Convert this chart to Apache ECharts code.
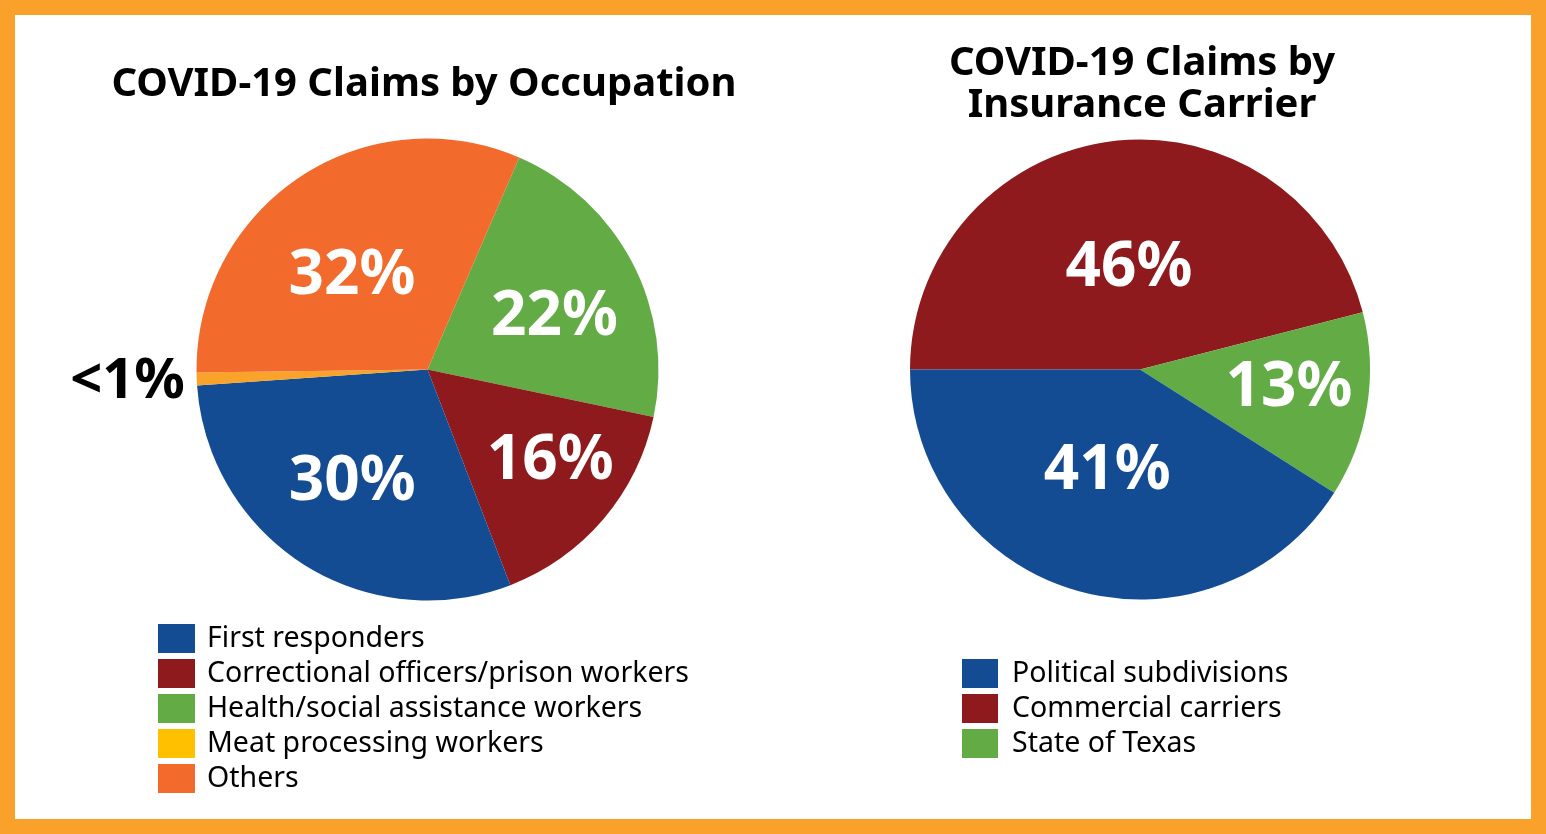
<!DOCTYPE html>
<html><head><meta charset="utf-8">
<script src="https://cdn.jsdelivr.net/npm/echarts@6/dist/echarts.min.js"></script>
<style>html,body{margin:0;padding:0;background:#fff}#c{width:1546px;height:834px}</style>
</head><body><div id="c"></div>
<script>
// Occupation pie (clockwise order as drawn)
const occNames = ['Health/social assistance workers','Correctional officers/prison workers','First responders','Meat processing workers','Others'];
const occValues = [22, 16, 30, 0.9, 32];
const occLegendOrder = ['First responders','Correctional officers/prison workers','Health/social assistance workers','Meat processing workers','Others'];
// Insurance carrier pie
const carNames = ['Commercial carriers','State of Texas','Political subdivisions'];
const carValues = [46, 13, 41];
const carLegendOrder = ['Political subdivisions','Commercial carriers','State of Texas'];

// label nudges (style only, px)
const occNudge = [[6,10],[19,3],[-2,-2],[3,3],[0,20]];
const carNudge = [[6,33],[15,-2],[5,-28]];

const colors = {
  'First responders':'#134C93',
  'Correctional officers/prison workers':'#8E1A1D',
  'Health/social assistance workers':'#62AB45',
  'Meat processing workers':'#F9A32B',
  'Others':'#F26B2D',
  'Political subdivisions':'#134C93',
  'Commercial carriers':'#8E1A1D',
  'State of Texas':'#62AB45'
};
const legendColors = Object.assign({}, colors, {'Meat processing workers':'#FFC000'});
const FONT = '"Noto Sans", "Open Sans", sans-serif';

function fmt(p){ return p.value < 1 ? '<1%' : Math.round(p.value) + '%'; }
function layoutFn(center, k, nudge){
  return function(params){
    const r = params.labelRect;
    const n = nudge[params.dataIndex] || [0,0];
    if (params.text === '<1%') return {dx:n[0], dy:n[1]};
    const lx = r.x + r.width/2, ly = r.y + r.height/2;
    return {x: center[0] + (lx - center[0])*k + n[0], y: center[1] + (ly - center[1])*k + n[1], align:'center', verticalAlign:'middle'};
  };
}

const chart = echarts.init(document.getElementById('c'), null, {renderer:'canvas'});
const cL = [427.5, 369.5], cR = [1140, 369.5];
chart.setOption({
  animation:false,
  backgroundColor:'#fff',
  title:[
    {text:'COVID-19 Claims by Occupation', left:419, top:60, textAlign:'center',
     textStyle:{fontFamily:FONT, fontWeight:'bold', fontSize:40, color:'#000'}},
    {text:'COVID-19 Claims by\nInsurance Carrier', left:1137, top:38, textAlign:'center',
     textStyle:{fontFamily:FONT, fontWeight:'bold', fontSize:40, color:'#000', lineHeight:42}}
  ],
  legend:[
    {orient:'vertical', left:158, top:624, padding:0, itemWidth:37, itemHeight:29, itemGap:6,
     icon:'rect', selectedMode:false,
     textStyle:{fontFamily:FONT, fontSize:28.5, color:'#000', padding:[0,0,0,7]},
     data: occLegendOrder.map(n=>({name:n, itemStyle:{color:legendColors[n]}}))},
    {orient:'vertical', left:962, top:659, padding:0, itemWidth:36, itemHeight:29, itemGap:6,
     icon:'rect', selectedMode:false,
     textStyle:{fontFamily:FONT, fontSize:28.5, color:'#000', padding:[0,0,0,9]},
     data: carLegendOrder.map(n=>({name:n, itemStyle:{color:legendColors[n]}}))}
  ],
  series:[
    {type:'pie', center:cL, radius:231, startAngle:66.6, clockwise:true, silent:true,
     label:{show:true, position:'inside', formatter:fmt, color:'#fff', fontFamily:FONT, fontWeight:'bold', fontSize:62},
     labelLine:{show:false},
     labelLayout: layoutFn(cL, 1.15, occNudge),
     data: occNames.map((n,i)=>{
       const d = {name:n, value:occValues[i], itemStyle:{color:colors[n]}};
       if (occValues[i] < 1) {
         d.label = {position:'outside', color:'#000', fontSize:56};
         d.labelLine = {show:false, length:4, length2:6};
       }
       return d;
     })},
    {type:'pie', center:cR, radius:230, startAngle:180, clockwise:true, silent:true,
     label:{show:true, position:'inside', formatter:fmt, color:'#fff', fontFamily:FONT, fontWeight:'bold', fontSize:62},
     labelLine:{show:false},
     labelLayout: layoutFn(cR, 1.15, carNudge),
     data: carNames.map((n,i)=>({name:n, value:carValues[i], itemStyle:{color:colors[n]}}))}
  ],
  graphic:[
    {type:'rect', z:100, silent:true, shape:{x:7.5, y:7.5, width:1531, height:819},
     style:{fill:null, stroke:'#F9A12B', lineWidth:15}}
  ]
});
</script></body></html>
